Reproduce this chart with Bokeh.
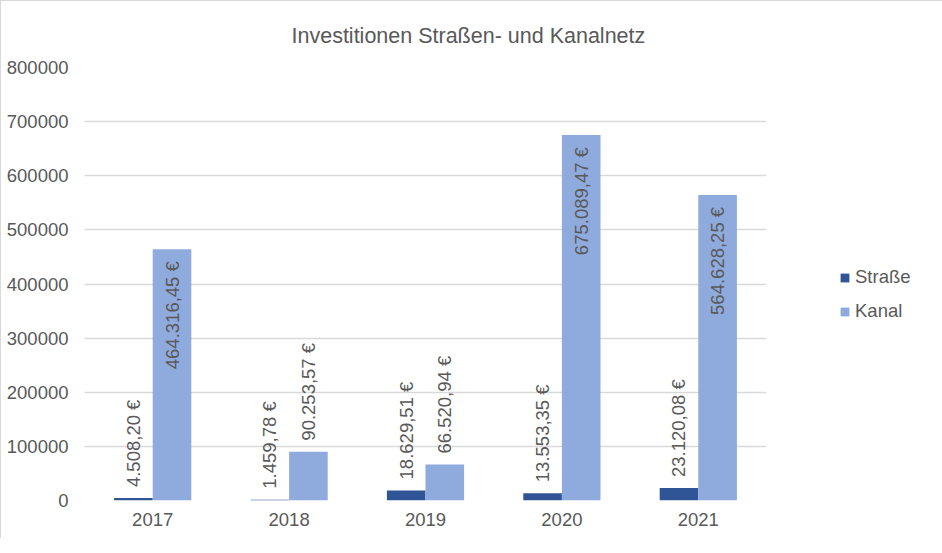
from bokeh.plotting import figure
from bokeh.models import (ColumnDataSource, FactorRange, Range1d, NumeralTickFormatter,
                          SingleIntervalTicker, Legend, LegendItem, Title)
from bokeh.transform import dodge
from bokeh.embed import file_html
from bokeh.resources import INLINE
import math

years = ["2017", "2018", "2019", "2020", "2021"]
strasse = [4508.20, 1459.78, 18629.51, 13553.35, 23120.08]
kanal = [464316.45, 90253.57, 66520.94, 675089.47, 564628.25]
series_names = ["Straße", "Kanal"]
title_text = "Investitionen Straßen- und Kanalnetz"

FONT = "Liberation Sans"
TXT = "#595959"
C_STR = "#2F5597"
C_KAN = "#8FAADC"
FS = "18.5px"


def de_euro(v):
    s = f"{v:,.2f}"
    s = s.replace(",", "X").replace(".", ",").replace("X", ".")
    return s + " €"


p = figure(x_range=FactorRange(*years, range_padding=0), y_range=Range1d(0, 800000),
           frame_width=682, frame_height=433, output_backend="svg", toolbar_location=None,
           min_border_left=83, min_border_right=161, min_border_top=66, min_border_bottom=38)
p.styles = {"border-left": "1px solid #d9d9d9", "border-top": "1px solid #d9d9d9"}
p.outline_line_color = None
p.background_fill_color = "white"
p.border_fill_color = "white"

p.title = Title(text=title_text, align="left", offset=207, text_font=FONT,
                text_font_size="21.5px", text_font_style="normal", text_color=TXT,
                standoff=40)

p.xgrid.grid_line_color = None
p.ygrid.grid_line_color = "#d9d9d9"
p.ygrid.grid_line_width = 1.3

p.yaxis.ticker = SingleIntervalTicker(interval=100000)
p.yaxis.formatter = NumeralTickFormatter(format="0")
for ax in (p.xaxis[0], p.yaxis[0]):
    ax.axis_line_color = None
    ax.major_tick_line_color = None
    ax.minor_tick_line_color = None
    ax.major_tick_out = 0
    ax.major_tick_in = 0
    ax.minor_tick_out = 0
    ax.major_label_text_font = FONT
    ax.major_label_text_font_size = FS
    ax.major_label_text_color = TXT
p.yaxis.major_label_standoff = 16
p.xaxis.major_label_standoff = 12

src = ColumnDataSource(dict(x=years, s=strasse, k=kanal))
bw = 0.283
off = bw / 2
r1 = p.vbar(x=dodge("x", -off, range=p.x_range), top="s", width=bw, source=src,
            fill_color=C_STR, line_color=None)
r2 = p.vbar(x=dodge("x", off, range=p.x_range), top="k", width=bw, source=src,
            fill_color=C_KAN, line_color=None)

# data labels
ymax = 800000
inside_threshold = 0.25 * ymax

lab_s = ColumnDataSource(dict(x=years, y=strasse, t=[de_euro(v) for v in strasse]))
p.text(x=dodge("x", -off, range=p.x_range), y="y", text="t", source=lab_s,
       angle=math.pi / 2, text_align="left", text_baseline="middle", y_offset=-11,
       text_font_size=FS, text_color=TXT, text_font={"value": FONT})

ins = [i for i, v in enumerate(kanal) if v > inside_threshold]
outs = [i for i, v in enumerate(kanal) if v <= inside_threshold]
lab_ki = ColumnDataSource(dict(x=[years[i] for i in ins], y=[kanal[i] for i in ins],
                               t=[de_euro(kanal[i]) for i in ins]))
lab_ko = ColumnDataSource(dict(x=[years[i] for i in outs], y=[kanal[i] for i in outs],
                               t=[de_euro(kanal[i]) for i in outs]))
p.text(x=dodge("x", off, range=p.x_range), y="y", text="t", source=lab_ki,
       angle=math.pi / 2, text_align="right", text_baseline="middle", y_offset=12,
       text_font_size=FS, text_color=TXT, text_font={"value": FONT})
p.text(x=dodge("x", off, range=p.x_range), y="y", text="t", source=lab_ko,
       angle=math.pi / 2, text_align="left", text_baseline="middle", y_offset=-11,
       text_font_size=FS, text_color=TXT, text_font={"value": FONT})

legend = Legend(items=[LegendItem(label=series_names[0], renderers=[r1]),
                       LegendItem(label=series_names[1], renderers=[r2])],
                location=(73, 178))
legend.border_line_color = None
legend.background_fill_alpha = 0
legend.padding = 0
legend.margin = 0
legend.glyph_width = 11
legend.glyph_height = 11
legend.label_standoff = 5
legend.label_height = 20
legend.spacing = 12
legend.label_text_font = FONT
legend.label_text_font_size = FS
legend.label_text_color = TXT
p.add_layout(legend, "right")

open("out.html", "w").write(file_html(p, INLINE))
